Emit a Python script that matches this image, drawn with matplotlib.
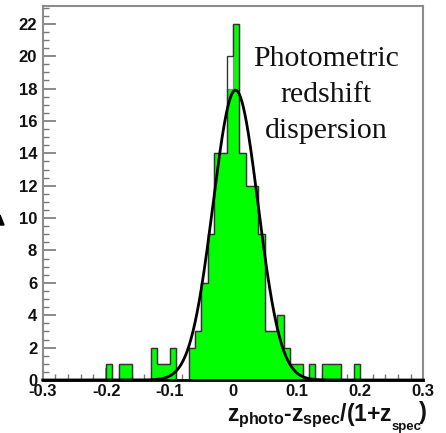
import numpy as np
import matplotlib
matplotlib.use("Agg")
import matplotlib.pyplot as plt
from matplotlib.patches import Polygon

plt.rcParams['mathtext.fontset'] = 'custom'
plt.rcParams['mathtext.it'] = 'Liberation Sans:bold'
plt.rcParams['mathtext.rm'] = 'Liberation Sans:bold'
plt.rcParams['mathtext.bf'] = 'Liberation Sans:bold'

# ---- data ----
x_min, x_max, bin_width = -0.30, 0.30, 0.01
# green filled histogram (60 bins of 0.01 from -0.30)
green_counts = [0, 0, 0, 0, 0, 0, 0, 0, 0, 0,
                1, 0, 1, 1, 0, 0, 0, 2, 1, 1,
                2, 0, 0, 2, 3, 6, 9, 14, 14, 18,
                22, 14, 12, 12, 9, 3, 3, 4, 2, 1,
                1, 0, 1, 0, 1, 1, 1, 0, 0, 1,
                0, 0, 0, 0, 0, 0, 0, 0, 0, 0]
# black outline histogram
outline_counts = [0, 0, 0, 0, 0, 0, 0, 0, 0, 0,
                  1, 0, 1, 1, 0, 0, 0, 2, 1, 1,
                  2, 0, 0, 2, 3, 6, 9, 14, 14, 20,
                  22, 14, 12, 12, 9, 3, 3, 4, 2, 1,
                  1, 0, 1, 0, 1, 1, 1, 0, 0, 1,
                  0, 0, 0, 0, 0, 0, 0, 0, 0, 0]
# gaussian fit
fit_amp, fit_mean, fit_sigma = 17.9, 0.004, 0.0355

x_ticks = [-0.3, -0.2, -0.1, 0.0, 0.1, 0.2, 0.3]
x_tick_labels = ['-0.3', '-0.2', '-0.1', '0', '0.1', '0.2', '0.3']
y_ticks = list(range(0, 23, 2))
y_max = 23.1

W, H = 446, 433
fig = plt.figure(figsize=(W / 100, H / 100), dpi=100)
ax = fig.add_axes([42.7 / W, 1 - 380 / H, (423.3 - 42.7) / W, (380 - 6) / H])

edges = np.linspace(x_min, x_max, len(green_counts) + 1)
ax.stairs(green_counts, edges, fill=True, color='#00ff00', zorder=2)
ax.stairs(green_counts, edges, color='#8a8a8a', lw=0.9, zorder=2.5, baseline=None)
ax.stairs(outline_counts, edges, color='#333333', lw=1.0, zorder=3, baseline=None)

xf = np.linspace(x_min, x_max, 1200)
ax.plot(xf, fit_amp * np.exp(-0.5 * ((xf - fit_mean) / fit_sigma) ** 2),
        color='black', lw=2.0, zorder=4, clip_on=False)

ax.set_xlim(x_min, x_max)
ax.set_ylim(0, y_max)
ax.set_xticks(x_ticks)
ax.set_xticklabels(x_tick_labels)
ax.set_xticks(np.arange(-0.3, 0.3001, 0.02), minor=True)
ax.set_yticks(y_ticks)
ax.set_yticks(np.arange(0, 23.01, 0.5), minor=True)

for lab in ax.get_xticklabels() + ax.get_yticklabels():
    lab.set_fontweight('bold')
    lab.set_fontfamily('Liberation Sans')
    lab.set_fontsize(12)
    lab.set_color('#111111')

ax.tick_params(axis='both', which='major', direction='in', length=9, width=1.2,
               color='#777777')
ax.tick_params(axis='both', which='minor', direction='in', length=4.5, width=1.0,
               color='#777777')
ax.tick_params(axis='y', which='major', pad=4)
ax.tick_params(axis='x', which='major', pad=3)

for s in ['left', 'top', 'right']:
    ax.spines[s].set_color('#8c8c8c')
    ax.spines[s].set_linewidth(1.5)
ax.spines['bottom'].set_color('black')
ax.spines['bottom'].set_linewidth(2)

# annotation text
fig.text(326 / W, 1 - 95 / H, 'Photometric\nredshift\ndispersion',
         ha='center', va='center', fontsize=21.5, family='Liberation Serif',
         linespacing=1.48, color='#111111')

# x axis label pieces
fig.text(227 / W, 1 - 421 / H, r'$z_{photo}$-$z_{spec}$/(1+$z$',
         fontsize=16.5, fontweight='bold', family='Liberation Sans',
         ha='left', va='baseline', color='#111111')
fig.text(392 / W, 1 - 430 / H, 'spec', fontsize=9.5, fontweight='bold',
         family='Liberation Sans', ha='left', va='baseline', color='#111111')
fig.text(418.5 / W, 1 - 419 / H, ')', fontsize=17, fontweight='bold',
         family='Liberation Sans', ha='left', va='baseline', color='#111111')

# cut-off arrow head at the left edge
fig.patches.append(Polygon([(0 / W, 1 - 225 / H), (4 / W, 1 - 225 / H), (0 / W, 1 - 215 / H)],
                           closed=True, transform=fig.transFigure, color='black'))

fig.savefig('out.png', dpi=100)
